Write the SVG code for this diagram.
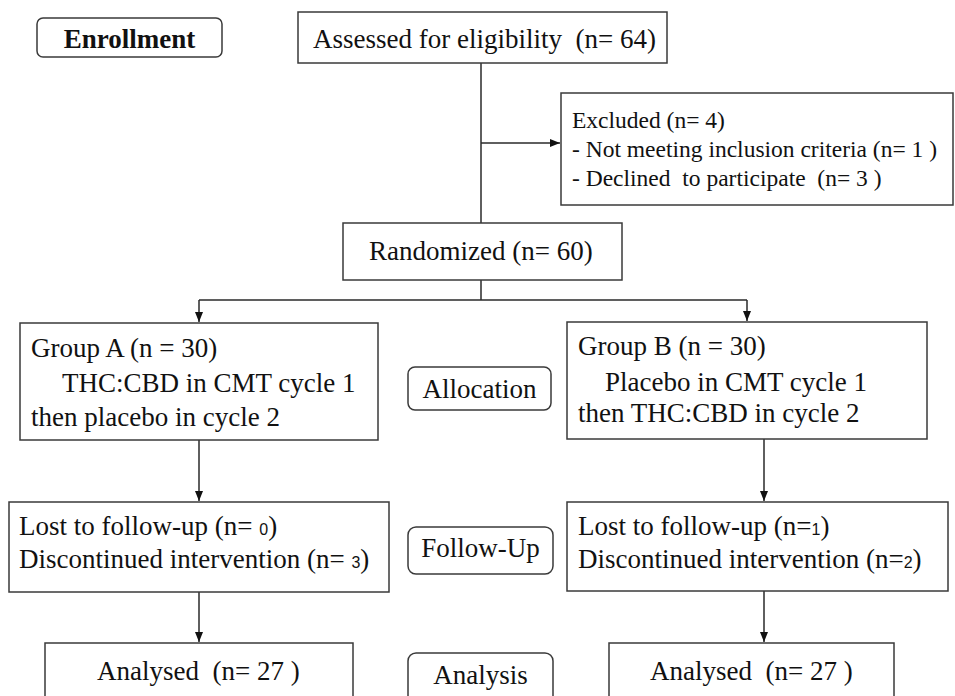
<svg xmlns="http://www.w3.org/2000/svg" width="955" height="696" viewBox="0 0 955 696">
<style>
.box{fill:#fff;stroke:#3a3a3a;stroke-width:1.5}
.rbox{fill:#fff;stroke:#3a3a3a;stroke-width:1.5}
.t{font-family:"Liberation Serif","Times New Roman",serif;font-size:27px;fill:#111}
.ts{font-family:"Liberation Serif","Times New Roman",serif;font-size:23.5px;fill:#111}
.b{font-weight:bold}
.d{font-family:"Liberation Sans",Arial,sans-serif;font-size:16px}
.ln{fill:none;stroke:#2a2a2a;stroke-width:1.5}
</style>
<defs>
<marker id="ah" markerUnits="userSpaceOnUse" markerWidth="10" markerHeight="10" viewBox="0 0 10 10" refX="10" refY="5" orient="auto">
<path d="M0,1 L10,5 L0,9 Z" fill="#111"/>
</marker>
</defs>
<rect width="955" height="696" fill="#fff"/>
<g id="connectors">
<path class="ln" d="M481,63 V223"/>
<path class="ln" d="M481,143 H560" marker-end="url(#ah)"/>
<path class="ln" d="M481,280 V300"/>
<path class="ln" d="M199,300 H747"/>
<path class="ln" d="M199,300 V322" marker-end="url(#ah)"/>
<path class="ln" d="M747,300 V321" marker-end="url(#ah)"/>
<path class="ln" d="M199,440 V501" marker-end="url(#ah)"/>
<path class="ln" d="M764,439 V501" marker-end="url(#ah)"/>
<path class="ln" d="M199,592 V642" marker-end="url(#ah)"/>
<path class="ln" d="M764,591 V642" marker-end="url(#ah)"/>
</g>
<g id="enrollment">
<rect class="rbox" x="37" y="18" width="185" height="39" rx="6"/>
<text class="t b" x="129.5" y="48" text-anchor="middle">Enrollment</text>
</g>
<g id="assessed">
<rect class="box" x="298" y="12" width="369" height="51"/>
<text class="t" x="313" y="48" xml:space="preserve">Assessed for eligibility  (n= 64)</text>
</g>
<g id="excluded">
<rect class="box" x="561" y="93" width="392" height="112"/>
<text class="ts" x="572" y="128">Excluded (n= 4)</text>
<text class="ts" x="572" y="157">- Not meeting inclusion criteria (n= 1 )</text>
<text class="ts" x="572" y="186" xml:space="preserve">- Declined  to participate  (n= 3 )</text>
</g>
<g id="randomized">
<rect class="box" x="343" y="223" width="279" height="57"/>
<text class="t" x="369" y="260">Randomized (n= 60)</text>
</g>
<g id="groupA">
<rect class="box" x="20" y="323" width="358" height="117"/>
<text class="t" x="31" y="357">Group A (n = 30)</text>
<text class="t" x="62" y="392">THC:CBD in CMT cycle 1</text>
<text class="t" x="31" y="426">then placebo in cycle 2</text>
</g>
<g id="allocation">
<rect class="rbox" x="408" y="367" width="143" height="43" rx="7"/>
<text class="t" x="479.5" y="398" text-anchor="middle">Allocation</text>
</g>
<g id="groupB">
<rect class="box" x="567" y="322" width="360" height="117"/>
<text class="t" x="578" y="355">Group B (n = 30)</text>
<text class="t" x="605" y="391">Placebo in CMT cycle 1</text>
<text class="t" x="578" y="422">then THC:CBD in cycle 2</text>
</g>
<g id="followA">
<rect class="box" x="9" y="502" width="380" height="90"/>
<text class="t" x="19" y="535">Lost to follow-up (n= <tspan class="d">0</tspan>)</text>
<text class="t" x="19" y="568">Discontinued intervention (n= <tspan class="d">3</tspan>)</text>
</g>
<g id="followup">
<rect class="rbox" x="408" y="527" width="145" height="47" rx="8"/>
<text class="t" x="480.5" y="557" text-anchor="middle">Follow-Up</text>
</g>
<g id="followB">
<rect class="box" x="567" y="502" width="381" height="89"/>
<text class="t" x="578" y="535">Lost to follow-up (n=<tspan class="d">1</tspan>)</text>
<text class="t" x="578" y="568">Discontinued intervention (n=<tspan class="d">2</tspan>)</text>
</g>
<g id="analysedA">
<rect class="box" x="45" y="643" width="308" height="80"/>
<text class="t" x="97" y="680" xml:space="preserve">Analysed  (n= 27 )</text>
</g>
<g id="analysis">
<rect class="rbox" x="408" y="653" width="145" height="70" rx="8"/>
<text class="t" x="480.5" y="684" text-anchor="middle">Analysis</text>
</g>
<g id="analysedB">
<rect class="box" x="609" y="643" width="285" height="80"/>
<text class="t" x="650" y="680" xml:space="preserve">Analysed  (n= 27 )</text>
</g>
</svg>
